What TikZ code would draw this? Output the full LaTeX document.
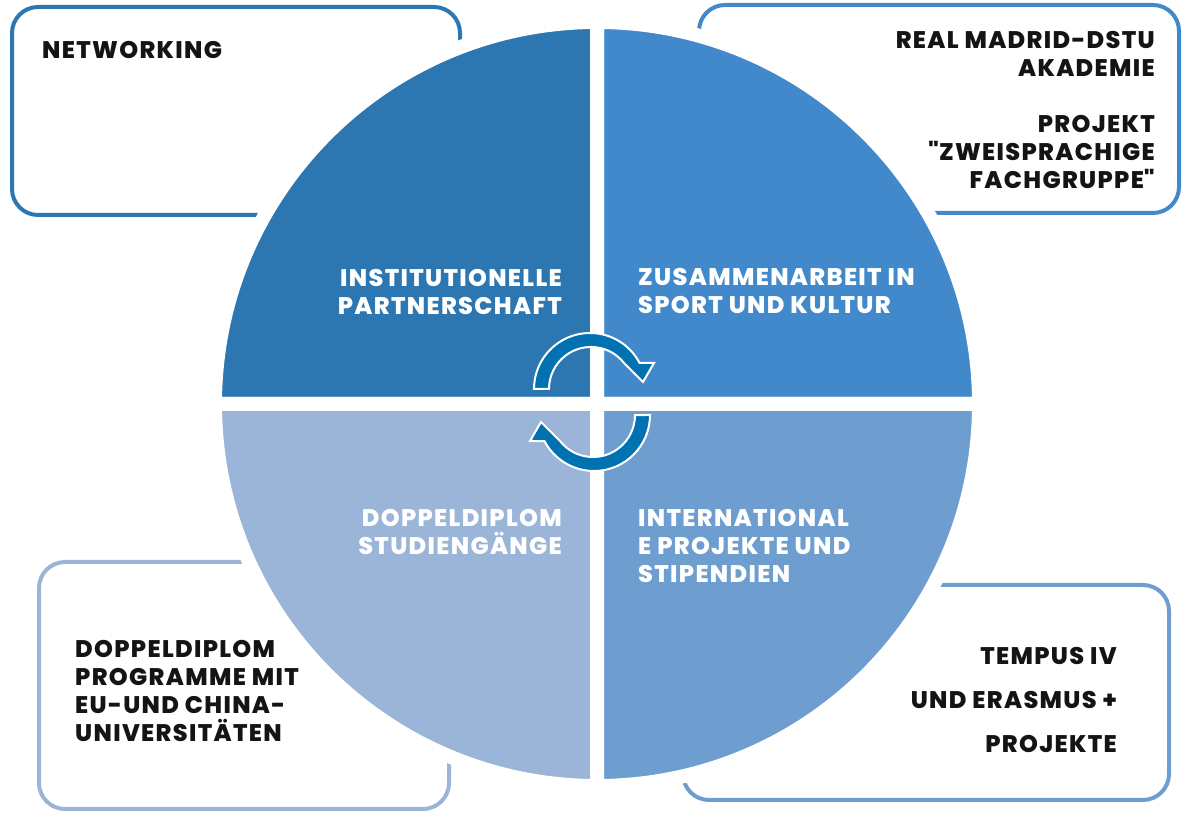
\documentclass[tikz,border=0pt]{standalone}
\usepackage{fontspec}
\setmainfont{Poppins}[BoldFont={Poppins ExtraBold},LetterSpace=5.5]
\usetikzlibrary{positioning}

\definecolor{qtl}{RGB}{44,118,177}
\definecolor{qtr}{RGB}{66,137,203}
\definecolor{qbr}{RGB}{110,158,207}
\definecolor{qbl}{RGB}{154,181,216}
\definecolor{arrowblue}{RGB}{0,114,178}
\definecolor{ink}{RGB}{20,20,20}

\tikzset{
  box/.style={line width=4pt,rounded corners=26pt},
  lbl/.style={font=\bfseries\fontsize{24}{28}\selectfont,inner sep=0pt,text=ink},
  inlbl/.style={lbl,text=white},
  turn/.style={fill=arrowblue,draw=white,line width=2pt,line join=miter}
}

% one curved arrow, drawn round the origin
\newcommand{\turnarrow}{%
  \filldraw[turn] (180:56) arc[start angle=180,end angle=27.7,radius=56]
    -- (64,26) -- (53,7) -- (34,26)
    arc[start angle=38.2,end angle=180,radius=42] -- cycle;}

\begin{document}
\begin{tikzpicture}[x=1pt,y=1pt]
\useasboundingbox (0,0) rectangle (1183,813);

% outer boxes
\draw[box,draw=qtl] (12,598) rectangle (460,806);
\draw[box,draw=qtr] (699,600) rectangle (1179,808);
\draw[box,draw=qbl] (39,4) rectangle (449,251);
\draw[box,draw=qbr] (683,13) rectangle (1169,228);

% the four quarters
\coordinate (O) at (597,409);
\foreach \a/\col in {0/qtr,90/qtl,180/qbl,270/qbr}
  \filldraw[fill=\col,draw=white,line width=14pt,line join=round]
    (O) -- ++(\a:382) arc[start angle=\a,end angle=\a+90,radius=382] -- cycle;

% box texts
\node[lbl,anchor=north west,align=left] (net) at (42,772) {NETWORKING};
\node[lbl,anchor=north east,align=right] (real) at (1155,782)
  {REAL MADRID-DSTU\\AKADEMIE\\[28pt]PROJEKT\\\textquotedbl ZWEISPRACHIGE\\FACHGRUPPE\textquotedbl};
\node[lbl,anchor=north west,align=left] (dd) at (75,173)
  {DOPPELDIPLOM\\PROGRAMME MIT\\EU-UND CHINA-\\UNIVERSITÄTEN};
\node[lbl,anchor=north east,align=right] (tempus) at (1117,166)
  {TEMPUS IV\\[16pt]UND ERASMUS +\\[16pt]PROJEKTE};

% quarter texts
\node[inlbl,anchor=north east,align=right] (inst) at (562,544)
  {INSTITUTIONELLE\\PARTNERSCHAFT};
\node[inlbl,anchor=north west,align=left] (zus) at (638,545)
  {ZUSAMMENARBEIT IN\\SPORT UND KULTUR};
\node[inlbl,anchor=north east,align=right] (dop) at (562,304)
  {DOPPELDIPLOM\\STUDIENGÄNGE};
\node[inlbl,anchor=north west,align=left] (intl) at (638,304)
  {INTERNATIONAL\\E PROJEKTE UND\\STIPENDIEN};

% turning arrows
\begin{scope}[shift={(590,424)}]\turnarrow\end{scope}
\begin{scope}[shift={(594,398)},rotate=180]\turnarrow\end{scope}
\end{tikzpicture}
\end{document}
